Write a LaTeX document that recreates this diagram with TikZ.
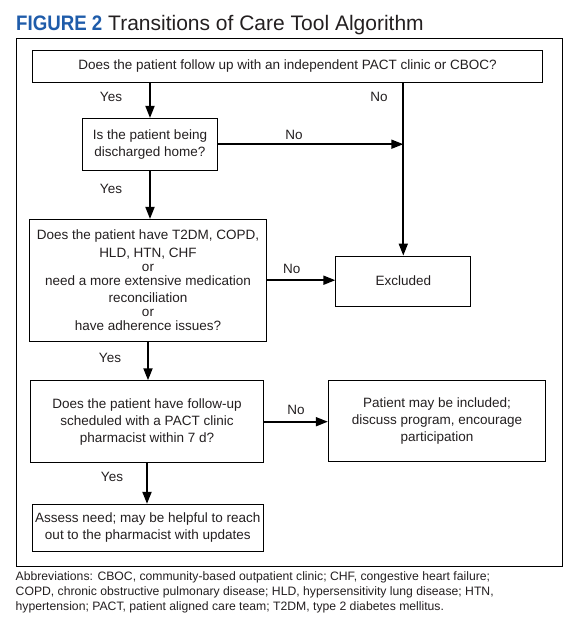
\documentclass[tikz,border=0pt]{standalone}
\usepackage{graphicx}
\usepackage{fontspec}
\setmainfont{Liberation Sans}
\usetikzlibrary{arrows.meta}
\definecolor{figblue}{RGB}{31,92,170}
\definecolor{ink}{RGB}{35,31,32}
\begin{document}
\begin{tikzpicture}[x=1pt,y=-1pt,
  box/.style={draw=black, line width=0.9pt, inner sep=0pt, align=center, text=ink,
    font=\fontsize{13.5}{17}\selectfont},
  lab/.style={text=ink, font=\fontsize{13.5}{16}\selectfont, inner sep=0pt},
  arr/.style={line width=1.8pt, -{Triangle[length=12pt,width=9pt]}},
  ln/.style={line width=1.8pt}]
\useasboundingbox (0,0) rectangle (573,622);
% title
\node[anchor=base west, inner sep=0pt, text=ink, font=\fontsize{21}{24}\selectfont] (title) at (16,30.7)
  {\textcolor{figblue}{\bfseries\scalebox{0.89}[1]{FIGURE 2}} Transitions of Care Tool Algorithm};
% frame
\node[draw=black, line width=0.9pt, minimum width=546pt, minimum height=528.7pt, inner sep=0pt] (frame) at (289,302.35) {};
% boxes
\node[box, minimum width=510.4pt, minimum height=31.6pt] (q1) at (287.5,66.5)
  {Does the patient follow up with an independent PACT clinic or CBOC?};
\node[box, minimum width=135.4pt, minimum height=51.7pt] (q2) at (150,144.2)
  {Is the patient being\\discharged home?};
\node[box, minimum width=237.4pt, minimum height=121.7pt] (q3) at (148,280.2)
  {Does the patient have T2DM, COPD,\\[1pt] HLD, HTN, CHF\\[-3pt] or\\[-3pt] need a more extensive medication\\ reconciliation\\[-3pt] or\\[-3pt] have adherence issues?};
\node[box, minimum width=135pt, minimum height=50pt] (ex) at (403.3,281) {Excluded};
\node[box, minimum width=232.6pt, minimum height=82pt] (q4) at (147,421.7)
  {Does the patient have follow-up\\scheduled with a PACT clinic\\pharmacist within 7 d?};
\node[box, minimum width=217.4pt, minimum height=81.4pt] (inc) at (437,421)
  {Patient may be included;\\discuss program, encourage\\participation};
\node[box, minimum width=231pt, minimum height=47.4pt] (as) at (147.8,528)
  {Assess need; may be helpful to reach\\out to the pharmacist with updates};
% labels
\node[lab] (y1) at (111,96.7) {Yes};
\node[lab] (n1) at (379,96.7) {No};
\node[lab] (n2) at (294,135) {No};
\node[lab] (y2) at (111,189) {Yes};
\node[lab] (n3) at (291.7,269.3) {No};
\node[lab] (y3) at (110,358.3) {Yes};
\node[lab] (n4) at (296,410) {No};
\node[lab] (y4) at (112,477.3) {Yes};
% connectors
\draw[arr] (q1.south -| q2.north) -- (q2.north);
\draw[arr] (q1.south -| ex.north) -- (ex.north);
\draw[arr] (q2.east) -- (q2.east -| ex.north);
\draw[arr] (q2.south) -- (q2.south |- q3.north);
\draw[arr] (q3.east) -- (q3.east -| ex.west);
\draw[arr] (q3.south) -- (q3.south |- q4.north);
\draw[arr] (q4.east) -- (q4.east -| inc.west);
\draw[arr] (q4.south) -- (q4.south |- as.north);
% abbreviations
\node[anchor=north west, inner sep=0pt, align=left, text=ink, font=\fontsize{12.2}{14.7}\selectfont] (abbr) at (15.5,571.8)
  {Abbreviations: CBOC, community-based outpatient clinic; CHF, congestive heart failure;\\
   COPD, chronic obstructive pulmonary disease; HLD, hypersensitivity lung disease; HTN,\\
   hypertension; PACT, patient aligned care team; T2DM, type 2 diabetes mellitus.};
\end{tikzpicture}
\end{document}
